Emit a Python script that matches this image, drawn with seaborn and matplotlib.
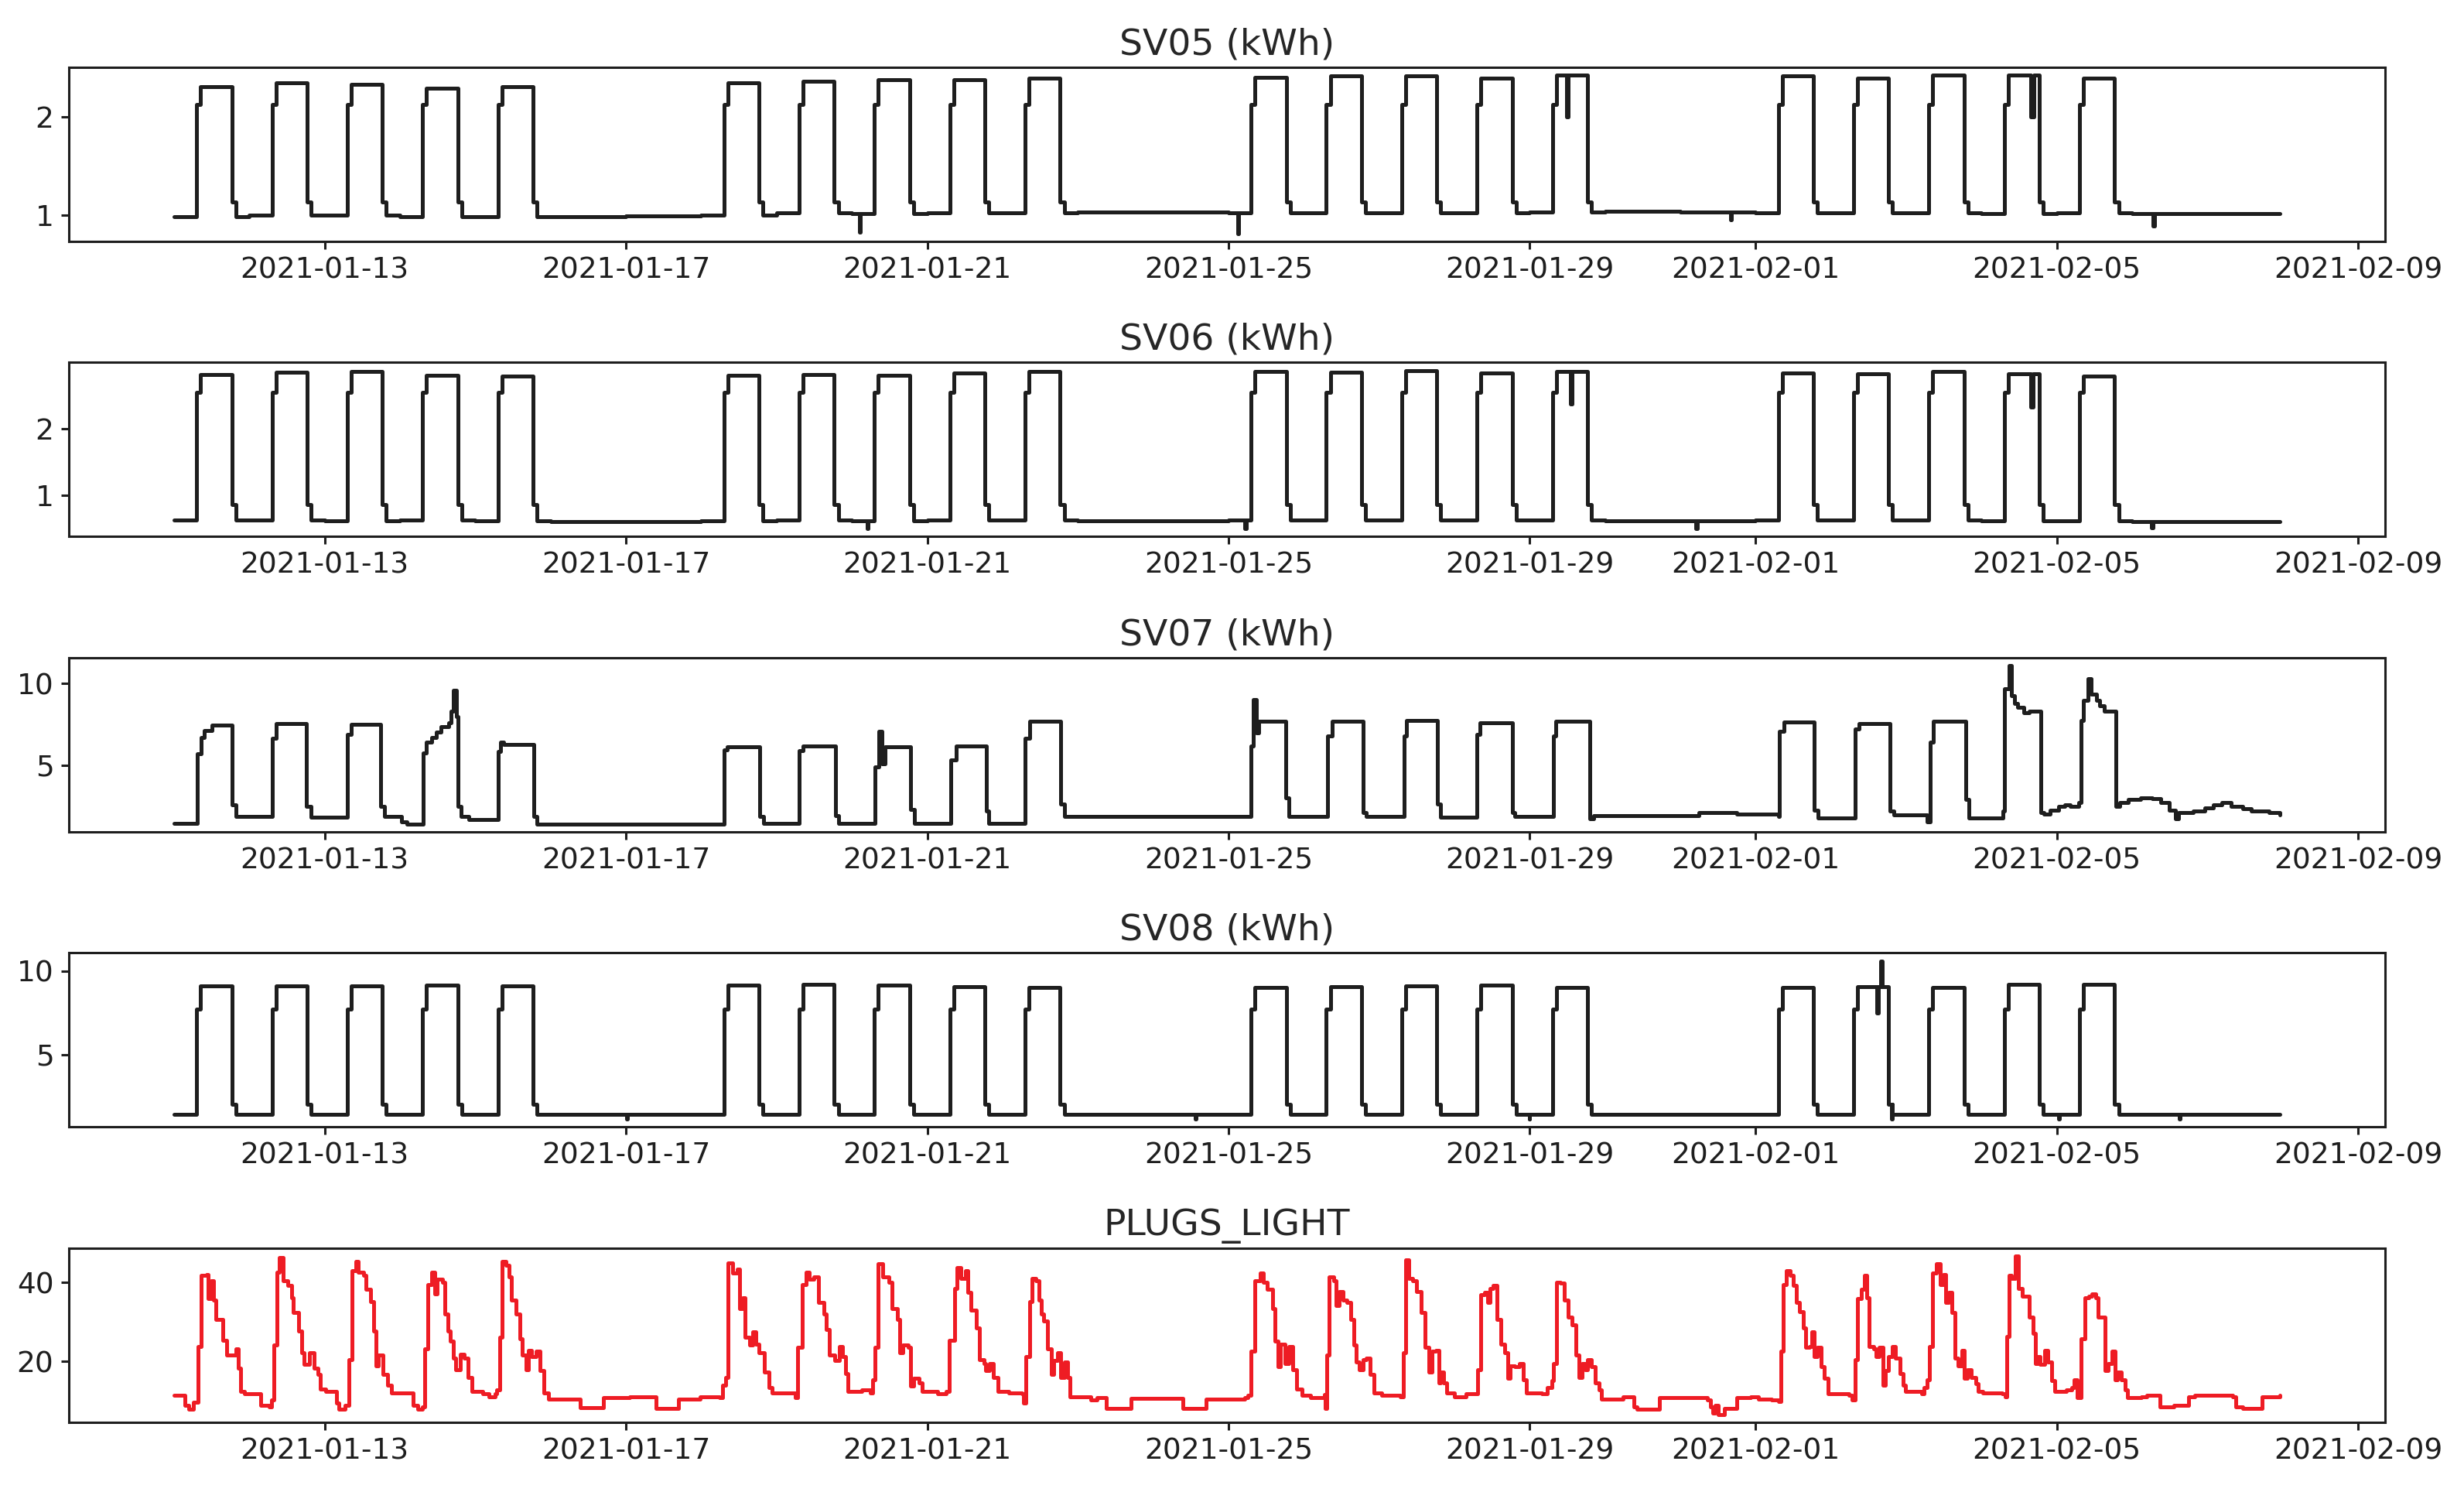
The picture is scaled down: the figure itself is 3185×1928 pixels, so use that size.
import numpy as np
import pandas as pd
import seaborn as sns
import matplotlib.pyplot as plt

sns.set_style("ticks")
plt.rcParams['font.family'] = ['DejaVu Sans']
plt.rcParams['axes.linewidth'] = 1.1
plt.rcParams['xtick.major.width'] = 1.1
plt.rcParams['ytick.major.width'] = 1.1
plt.rcParams['xtick.major.size'] = 3.5
plt.rcParams['ytick.major.size'] = 3.5

# time axis: days counted from 2021-01-11 00:00
start = pd.Timestamp('2021-01-11 00:00')
n_days = 28
end_day = 27.96
workdays = [0, 1, 2, 3, 4, 7, 8, 9, 10, 11, 14, 15, 16, 17, 18, 21, 22, 23, 24, 25]
ramp_hours = [7.2, 8.45, 18.4, 19.65]   # start-up, full load, shut-down, off

# SV05 (kWh)
sv05_high = [2.31, 2.35, 2.34, 2.30, 2.31, 2.35, 2.37, 2.38, 2.38, 2.40,
             2.41, 2.42, 2.42, 2.40, 2.43, 2.42, 2.40, 2.43, 2.43, 2.40]
sv05_low = [0.98, 1.00, 1.00, 0.98, 0.98, 0.98, 0.99,
            1.00, 1.02, 1.01, 1.02, 1.02, 1.03, 1.03,
            1.02, 1.02, 1.02, 1.02, 1.03, 1.04, 1.03,
            1.02, 1.02, 1.02, 1.01, 1.02, 1.01, 1.01]
sv05_ramp = [2.13, 1.13]
sv05_spike_day = [9.10, 14.12, 18.49, 20.67, 24.65, 26.28]
sv05_spike_val = [0.82, 0.81, 2.00, 0.95, 2.00, 0.89]
sv05_spike_len = [0.3, 0.3, 0.5, 0.3, 1.0, 0.3]

# SV06 (kWh)
sv06_high = [2.82, 2.85, 2.86, 2.81, 2.79, 2.81, 2.82, 2.81, 2.84, 2.86,
             2.87, 2.85, 2.88, 2.84, 2.87, 2.84, 2.83, 2.87, 2.83, 2.79]
sv06_low = [0.62, 0.62, 0.61, 0.62, 0.61, 0.60, 0.60,
            0.61, 0.62, 0.61, 0.62, 0.62, 0.61, 0.61,
            0.62, 0.62, 0.62, 0.62, 0.62, 0.61, 0.61,
            0.62, 0.62, 0.62, 0.61, 0.61, 0.60, 0.60]
sv06_ramp = [2.55, 0.85]
sv06_spike_day = [9.20, 14.22, 18.54, 20.21, 24.65, 26.26]
sv06_spike_val = [0.49, 0.49, 2.37, 0.49, 2.33, 0.50]
sv06_spike_len = [0.3, 0.3, 0.5, 0.3, 0.8, 0.3]

# SV08 (kWh)
sv08_high = [9.11, 9.11, 9.11, 9.14, 9.11, 9.16, 9.19, 9.14, 9.08, 9.03,
             9.03, 9.08, 9.11, 9.14, 9.03, 9.03, 9.08, 9.03, 9.19, 9.22]
sv08_low = [1.44, 1.44, 1.44, 1.44, 1.44, 1.40, 1.40,
            1.44, 1.44, 1.44, 1.44, 1.44, 1.40, 1.40,
            1.44, 1.44, 1.44, 1.44, 1.44, 1.40, 1.40,
            1.44, 1.44, 1.44, 1.44, 1.44, 1.40, 1.40]
sv08_ramp = [7.7, 2.0]
sv08_spike_day = [6.01, 13.56, 18.00, 22.61, 22.66, 22.80, 25.02, 26.62]
sv08_spike_val = [1.13, 1.13, 1.13, 7.5, 10.6, 1.13, 1.13, 1.13]
sv08_spike_len = [0.3, 0.3, 0.3, 0.5, 0.5, 0.3, 0.3, 0.3]

# SV07 (kWh), change points
sv07_day = [0.00, 0.308, 0.36, 0.406, 0.504, 0.766, 0.818,
            1.303, 1.355, 1.761, 1.814,
            2.305, 2.351, 2.744, 2.796, 3.025, 3.09,
            3.307, 3.353, 3.418, 3.484, 3.549, 3.647, 3.68, 3.713, 3.752, 3.765, 3.811, 3.91,
            4.302, 4.335, 4.38, 4.774, 4.813,
            7.302, 7.348, 7.773, 7.825,
            8.30, 8.35, 8.78, 8.82,
            9.307, 9.358, 9.40, 9.437, 9.775, 9.833,
            10.316, 10.388, 10.784, 10.82,
            11.302, 11.36, 11.77, 11.828,
            14.298, 14.334, 14.37, 14.406, 14.76, 14.80,
            15.32, 15.379, 15.79, 15.825,
            16.33, 16.365, 16.776, 16.82,
            17.30, 17.338, 17.77, 17.806,
            18.31, 18.346, 18.80, 18.85,
            20.05, 20.25, 20.75, 21.30,
            21.312, 21.374, 21.78, 21.824,
            22.32, 22.37, 22.787, 22.833, 23.275,
            23.314, 23.36, 23.795, 23.826, 24.284,
            24.308, 24.36, 24.40, 24.44, 24.48, 24.556, 24.634,
            24.79, 24.83, 24.905, 25.02, 25.10, 25.177, 25.293,
            25.316, 25.347, 25.41, 25.45, 25.526, 25.565, 25.627,
            25.78, 25.836, 25.95, 26.108, 26.263, 26.38, 26.496, 26.574, 26.61,
            26.806, 26.961, 27.078, 27.194, 27.31, 27.466, 27.58, 27.815, 27.96]
sv07_val = [1.45, 5.69, 6.72, 7.12, 7.44, 2.57, 1.85,
            6.65, 7.55, 2.5, 1.8,
            6.9, 7.5, 2.5, 1.85, 1.53, 1.4,
            5.77, 6.4, 6.72, 7.04, 7.36, 7.6, 8.32, 9.6, 8.0, 2.5, 1.85, 1.65,
            5.85, 6.4, 6.25, 1.85, 1.4,
            5.93, 6.13, 1.85, 1.45,
            5.9, 6.17, 1.9, 1.45,
            4.9, 7.1, 5.1, 6.13, 2.3, 1.45,
            5.3, 6.17, 2.2, 1.45,
            6.65, 7.68, 2.6, 1.85,
            6.17, 9.0, 7.0, 7.68, 3.0, 1.85,
            6.8, 7.68, 2.1, 1.85,
            6.8, 7.76, 2.6, 1.8,
            6.9, 7.6, 2.1, 1.85,
            6.8, 7.68, 1.7, 1.93,
            1.93, 2.1, 2.0, 1.85,
            7.1, 7.65, 2.25, 1.77,
            7.2, 7.55, 2.2, 1.95, 1.53,
            6.4, 7.7, 2.9, 1.77, 2.2,
            9.68, 11.1, 9.28, 8.8, 8.56, 8.24, 8.3,
            2.1, 2.0, 2.25, 2.5, 2.57, 2.5, 2.7,
            7.76, 8.96, 10.3, 9.36, 8.96, 8.64, 8.32,
            2.5, 2.7, 2.9, 3.0, 2.97, 2.7, 2.25, 1.7, 2.1,
            2.17, 2.4, 2.57, 2.7, 2.5, 2.33, 2.17, 2.12, 1.97]

# PLUGS_LIGHT, change points
plugs_day = [0.00, 0.14, 0.20, 0.26, 0.32, 0.36, 0.43, 0.45, 0.49, 0.52, 0.56, 0.65, 0.70,
             0.825, 0.85, 0.88, 0.93, 1.15, 1.26, 1.29, 1.33,
             1.37, 1.40, 1.45, 1.51, 1.56, 1.58, 1.65, 1.70, 1.73, 1.80, 1.86, 1.91, 1.94,
             2.01, 2.16, 2.19, 2.27, 2.32,
             2.36, 2.41, 2.45, 2.52, 2.55, 2.61, 2.65, 2.68, 2.71, 2.77, 2.84, 2.89,
             3.17, 3.24, 3.30, 3.33,
             3.37, 3.42, 3.46, 3.49, 3.56, 3.60, 3.64, 3.67, 3.71, 3.74, 3.80, 3.85, 3.90, 3.95,
             4.10, 4.18, 4.26, 4.28, 4.32,
             4.36, 4.41, 4.45, 4.48, 4.54, 4.59, 4.62, 4.67, 4.70, 4.75, 4.81, 4.86, 4.91, 4.97,
             5.39, 5.70, 6.05, 6.40, 6.70, 6.99, 7.24, 7.28, 7.32,
             7.35, 7.42, 7.48, 7.51, 7.55, 7.58, 7.64, 7.68, 7.72, 7.77, 7.84, 7.90, 7.94,
             8.25, 8.28, 8.34, 8.39, 8.43, 8.50,
             8.56, 8.63, 8.66, 8.70, 8.77, 8.83, 8.88, 8.92, 8.95, 9.13, 9.24, 9.28, 9.31,
             9.35, 9.41, 9.49, 9.53, 9.60, 9.64, 9.68, 9.75, 9.78, 9.82, 9.89, 9.93,
             10.14, 10.25, 10.29,
             10.36, 10.40, 10.45, 10.51, 10.54, 10.58, 10.65, 10.69, 10.76, 10.78, 10.83, 10.88, 10.94,
             11.08, 11.26, 11.28, 11.31,
             11.36, 11.39, 11.44, 11.48, 11.52, 11.55, 11.60, 11.65, 11.68, 11.73, 11.77, 11.82, 11.86, 11.89,
             12.17, 12.25, 12.38, 12.71, 13.39, 13.70, 14.22, 14.26, 14.30,
             14.35, 14.42, 14.46, 14.51, 14.59, 14.62, 14.66, 14.69, 14.75, 14.80, 14.85, 14.90, 14.98,
             15.09, 15.27, 15.28, 15.31,
             15.34, 15.40, 15.43, 15.47, 15.52, 15.57, 15.62, 15.67, 15.70, 15.74, 15.79, 15.83, 15.88, 15.93,
             16.03, 16.28, 16.32,
             16.35, 16.39, 16.45, 16.50, 16.56, 16.61, 16.66, 16.70, 16.75, 16.79, 16.82, 16.86, 16.90,
             17.00, 17.15, 17.31,
             17.35, 17.40, 17.44, 17.47, 17.51, 17.57, 17.62, 17.67, 17.71, 17.74, 17.80, 17.86, 17.91, 17.96,
             18.16, 18.23, 18.29, 18.32,
             18.36, 18.41, 18.46, 18.51, 18.56, 18.61, 18.65, 18.70, 18.74, 18.77, 18.82, 18.87, 18.92, 18.95,
             19.24, 19.38, 19.42, 19.72, 20.36, 20.40, 20.43, 20.46, 20.50, 20.59, 20.75, 20.93,
             21.04, 21.21, 21.30, 21.33,
             21.37, 21.41, 21.46, 21.50, 21.54, 21.58, 21.63, 21.66, 21.71, 21.75, 21.78, 21.82, 21.87, 21.91, 21.96,
             22.24, 22.28, 22.32,
             22.35, 22.40, 22.44, 22.47, 22.51, 22.57, 22.60, 22.64, 22.69, 22.72, 22.76, 22.81, 22.85, 22.92,
             22.96, 22.99, 23.20, 23.24, 23.28, 23.31,
             23.35, 23.40, 23.45, 23.49, 23.52, 23.56, 23.61, 23.65, 23.69, 23.74, 23.77, 23.81, 23.86, 23.92,
             23.95, 24.02, 24.27, 24.31, 24.33,
             24.36, 24.40, 24.45, 24.49, 24.54, 24.63, 24.68, 24.71, 24.75, 24.78, 24.84, 24.88, 24.93, 24.97,
             25.13, 25.20, 25.23, 25.27, 25.32,
             25.37, 25.42, 25.46, 25.52, 25.55, 25.64, 25.68, 25.73, 25.77, 25.80, 25.85, 25.91, 25.94,
             26.12, 26.19, 26.37, 26.55, 26.75, 26.83, 27.33, 27.37, 27.47, 27.72, 27.96]
plugs_val = [11.4, 8.8, 7.8, 9.5, 23.8, 41.8, 42.1, 35.9, 40.5, 35.6, 30.7, 25.4, 21.5,
             23.1, 18.2, 12.4, 11.7, 8.8, 8.4, 10.1, 24.1,
             42.7, 46.3, 40.5, 39.2, 36.2, 32.3, 27.7, 22.2, 19.2, 22.2, 18.2, 16.6, 13.0,
             12.4, 9.4, 7.8, 8.8, 20.5,
             43.1, 45.4, 42.7, 41.8, 38.2, 35.2, 27.7, 18.9, 21.5, 16.6, 14.0, 12.0,
             8.8, 7.8, 8.4, 23.1,
             39.5, 42.7, 37.2, 40.8, 40.1, 32.0, 27.7, 25.1, 20.8, 17.9, 21.8, 20.8, 15.9, 12.4,
             11.7, 11.0, 11.7, 12.7, 26.1,
             45.4, 44.4, 41.4, 35.6, 32.0, 25.8, 21.5, 17.9, 22.8, 21.2, 22.5, 17.6, 12.0, 10.4,
             8.2, 10.7, 11.0, 8.1, 10.4, 11.0, 10.7, 14.0, 15.9,
             45.0, 42.4, 43.4, 33.3, 36.2, 26.1, 24.1, 27.4, 24.4, 22.2, 17.3, 13.3, 12.0,
             10.7, 23.5, 39.5, 42.7, 40.8, 41.4,
             34.9, 32.0, 28.0, 21.5, 20.2, 23.8, 21.2, 16.9, 12.4, 12.7, 12.0, 15.3, 23.5,
             44.7, 41.4, 40.1, 33.3, 30.7, 22.2, 24.1, 23.5, 13.7, 15.6, 14.6, 12.4,
             11.7, 12.4, 25.4,
             38.5, 43.7, 41.1, 43.1, 37.5, 32.9, 28.4, 20.5, 19.5, 17.6, 19.5, 15.9, 12.4,
             12.0, 11.7, 9.4, 21.2,
             35.2, 41.1, 40.5, 35.6, 32.0, 30.3, 23.1, 16.6, 20.2, 22.2, 15.9, 19.9, 15.9, 11.0,
             10.1, 10.7, 8.1, 10.5, 8.1, 10.4, 10.7, 11.4, 22.5,
             40.5, 42.4, 40.1, 38.2, 33.3, 25.1, 18.6, 24.4, 19.5, 23.8, 17.9, 13.0, 11.4,
             10.7, 11.5, 8.1, 21.5,
             41.4, 40.5, 34.2, 37.8, 35.6, 34.9, 30.7, 24.1, 19.9, 17.9, 20.5, 20.8, 16.6, 12.0,
             11.4, 11.0, 22.2,
             45.7, 41.1, 40.5, 37.8, 32.3, 23.5, 17.3, 22.5, 22.8, 14.6, 17.3, 14.6, 12.0,
             11.0, 11.7, 17.9,
             36.9, 37.5, 34.9, 38.5, 39.2, 30.7, 24.4, 22.2, 15.6, 18.9, 18.6, 19.5, 15.3, 12.0,
             11.7, 13.3, 15.0, 19.5,
             40.1, 39.8, 35.6, 31.3, 29.3, 21.5, 15.9, 19.5, 17.9, 20.5, 18.6, 14.6, 12.7, 10.4,
             10.9, 8.4, 7.8, 10.7, 10.1, 8.4, 6.8, 8.8, 6.5, 8.1, 10.7, 11.0,
             10.4, 10.2, 9.7, 22.5,
             39.5, 43.1, 41.8, 39.2, 34.9, 32.6, 28.4, 23.5, 23.8, 27.4, 21.2, 23.5, 18.6, 15.6, 11.7,
             11.4, 10.1, 20.5,
             35.9, 38.2, 41.8, 36.2, 23.8, 23.1, 21.2, 23.5, 14.0, 17.6, 21.2, 23.8, 20.8, 16.9,
             14.0, 12.4, 11.7, 13.3, 15.3, 23.8,
             42.4, 44.7, 39.5, 42.1, 34.9, 37.5, 32.3, 20.8, 18.9, 22.8, 15.6, 17.9, 15.9, 14.3,
             12.4, 12.0, 11.7, 11.0, 26.4,
             41.8, 41.1, 46.7, 38.5, 36.5, 31.3, 27.1, 19.5, 21.2, 19.2, 22.8, 19.9, 15.0, 12.4,
             12.7, 13.3, 15.3, 10.7, 25.8,
             36.2, 36.5, 37.2, 36.2, 31.3, 17.6, 19.5, 22.5, 15.3, 17.3, 15.3, 12.7, 10.7,
             10.9, 11.4, 8.4, 8.8, 11.0, 11.4, 11.0, 8.4, 8.1, 11.0, 11.4]


def weekday_profile(high, low, ramp, spike_day, spike_val, spike_len):
    days, vals = [], []
    for d in range(n_days):
        days.append(d)
        vals.append(low[d])
        if d in workdays:
            top = high[workdays.index(d)]
            for hr, v in zip(ramp_hours, [ramp[0], top, ramp[1], low[d]]):
                days.append(d + hr / 24)
                vals.append(v)
    days.append(end_day)
    vals.append(low[-1])
    base_days = np.array(days)
    base_vals = list(vals)
    for sd, sv, sl in zip(spike_day, spike_val, spike_len):
        base = base_vals[np.searchsorted(base_days, sd, side='right') - 1]
        days += [sd, sd + sl / 24]
        vals += [sv, base]
    return days, vals


def to_frame(days, vals):
    return pd.DataFrame({'time': start + pd.to_timedelta(np.array(days), unit='D'),
                         'value': vals})


panels = [
    ('SV05 (kWh)', to_frame(*weekday_profile(sv05_high, sv05_low, sv05_ramp,
                                             sv05_spike_day, sv05_spike_val, sv05_spike_len)), '#1e1e1e'),
    ('SV06 (kWh)', to_frame(*weekday_profile(sv06_high, sv06_low, sv06_ramp,
                                             sv06_spike_day, sv06_spike_val, sv06_spike_len)), '#1e1e1e'),
    ('SV07 (kWh)', to_frame(sv07_day, sv07_val), '#1e1e1e'),
    ('SV08 (kWh)', to_frame(*weekday_profile(sv08_high, sv08_low, sv08_ramp,
                                             sv08_spike_day, sv08_spike_val, sv08_spike_len)), '#1e1e1e'),
    ('PLUGS_LIGHT', to_frame(plugs_day, plugs_val), '#ee1c24'),
]

fig, axes = plt.subplots(5, 1, figsize=(15.925, 9.64), dpi=200)
fig.subplots_adjust(left=0.0279, right=0.968, top=0.9549, bottom=0.0467, hspace=0.696)

for ax, (title, df, color) in zip(axes, panels):
    sns.lineplot(data=df, x='time', y='value', ax=ax, color=color, linewidth=1.8,
                 estimator=None, drawstyle='steps-post')
    ax.set_title(title, fontsize=17)
    ax.set_xlabel('')
    ax.set_ylabel('')
    ax.tick_params(labelsize=13.5, colors='#1e1e1e')
    for s in ax.spines.values():
        s.set_color('#1e1e1e')

fig.savefig('out.png', dpi=200)
